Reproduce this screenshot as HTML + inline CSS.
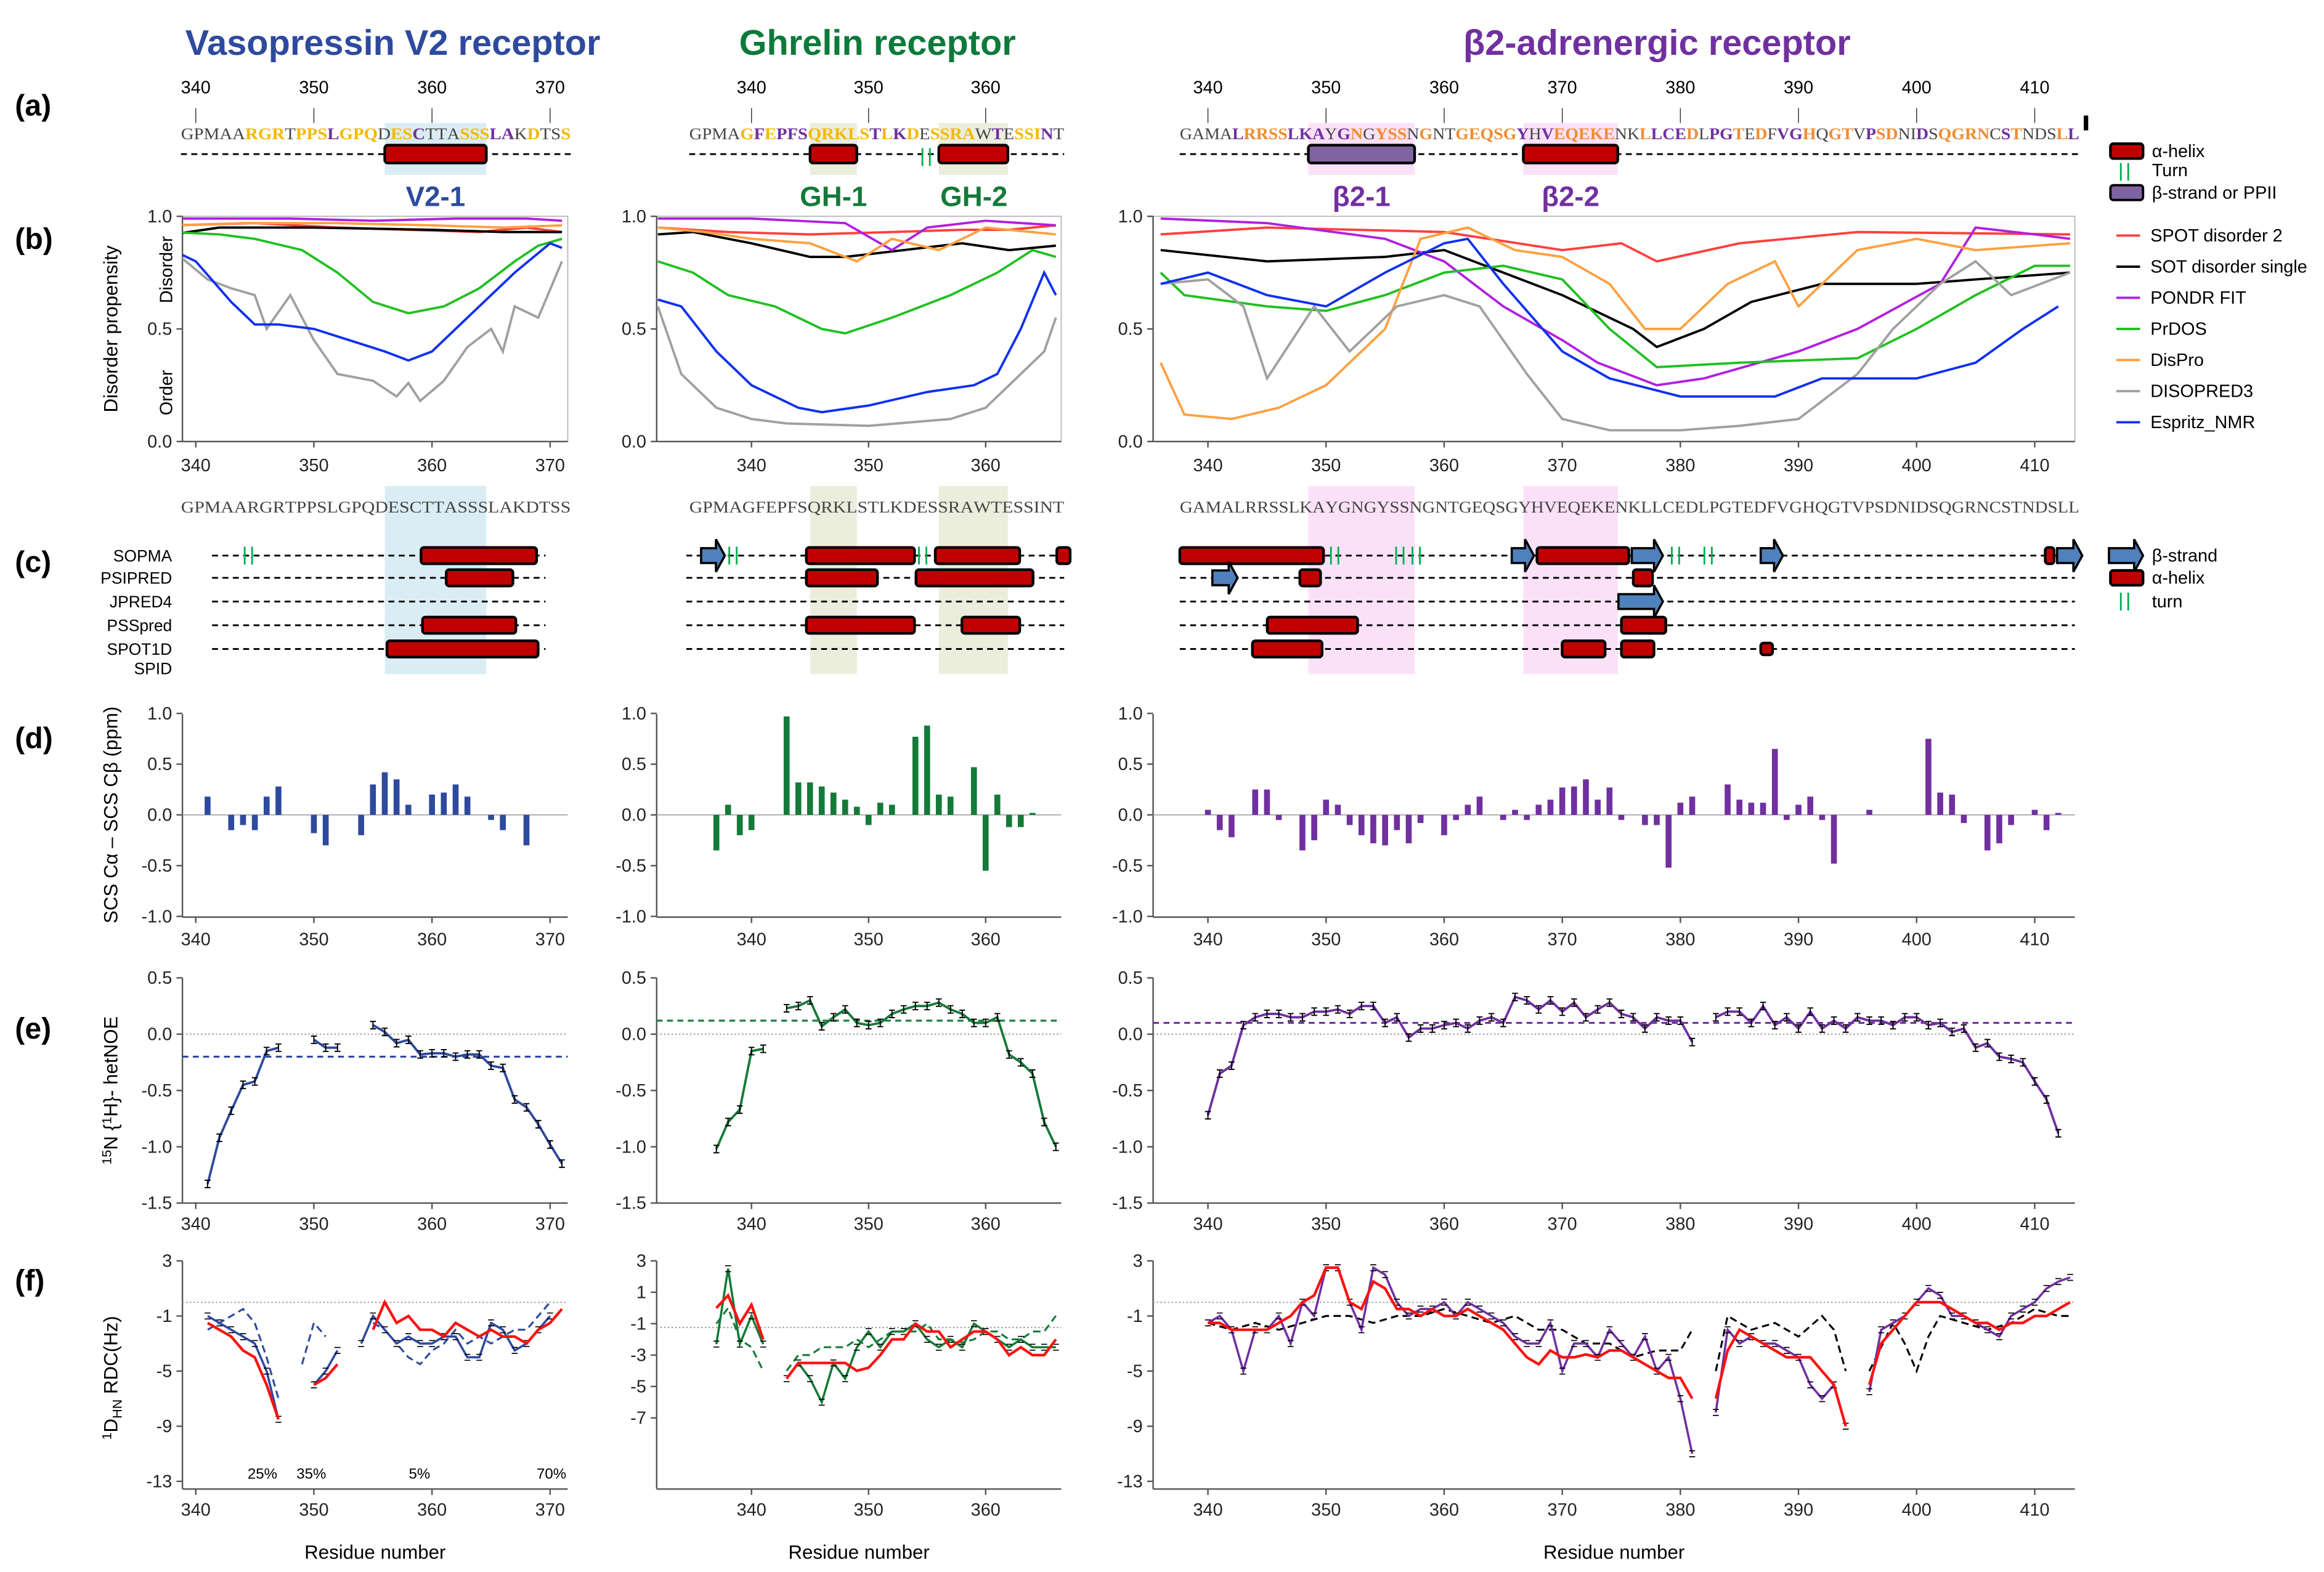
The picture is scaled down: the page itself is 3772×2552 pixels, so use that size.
<!DOCTYPE html>
<html><head><meta charset="utf-8"><style>
html,body{margin:0;padding:0;background:#fff}
svg{display:block}
text{font-family:"Liberation Sans",sans-serif}
.seq{font-family:"Liberation Serif",serif}
</style></head><body>
<svg id="fig" xmlns="http://www.w3.org/2000/svg" width="3772" height="2552" viewBox="0 0 1568 1061">
<g>
<text x="265" y="37" text-anchor="middle" font-size="24" font-weight="bold" fill="#2e4a9e">Vasopressin V2 receptor</text>
<text x="592" y="37" text-anchor="middle" font-size="24" font-weight="bold" fill="#0b7a3a">Ghrelin  receptor</text>
<text x="1118" y="37" text-anchor="middle" font-size="24" font-weight="bold" fill="#7030a0">β2-adrenergic receptor</text>
</g>
<g font-size="20" font-weight="bold">
<text x="10" y="78">(a)</text>
<text x="10" y="168">(b)</text>
<text x="10" y="386">(c)</text>
<text x="10" y="505">(d)</text>
<text x="10" y="701">(e)</text>
<text x="10" y="871">(f)</text>
</g>
<g font-size="13">
<text transform="translate(79,222) rotate(-90)" text-anchor="middle">Disorder propensity</text>
<text transform="translate(116,182) rotate(-90)" text-anchor="middle" font-size="12">Disorder</text>
<text transform="translate(116,265) rotate(-90)" text-anchor="middle" font-size="12">Order</text>
<text transform="translate(79,550) rotate(-90)" text-anchor="middle">SCS Cα – SCS Cβ (ppm)</text>
<text transform="translate(79,736) rotate(-90)" text-anchor="middle"><tspan font-size="9" dy="-4">15</tspan><tspan dy="4">N {</tspan><tspan font-size="9" dy="-4">1</tspan><tspan dy="4">H}- hetNOE</tspan></text>
<text transform="translate(79,930) rotate(-90)" text-anchor="middle"><tspan font-size="9" dy="-4">1</tspan><tspan dy="4">D</tspan><tspan font-size="9" dy="3">HN</tspan><tspan dy="-3"> RDC(Hz)</tspan></text>
</g>
<g id="root"></g>
</svg>
<script>
// ---------- data ----------
const seq1 = "GPMAARGRTPPSLGPQDESCTTASSSLAKDTSS";
const seq1Col = "gggggooogooopooogoopgggoooppgoggoo".slice(0,33);
const seq2 = "GPMAGFEPFSQRKLSTLKDESSRAWTESSINT";
const seq2Col = "ggggopopppooooopopogoooogpgooopgg".slice(0,32);
const seq3 = "GAMALRRSSLKAYGNGYSSNGNTGEQSGYHVEQEKENKLLCEDLPGTEDFVGHQGTVPSDNIDSQGRNCSTNDSLL";
const seq3Col = "ggggpoooopppgpogooogoggooooopgpoooooggopppogppogogppogoogpooggpgoooogpogggopp";

// (b) disorder propensity [residue, value]
const b1_spot = [[338,0.96],[345,0.97],[352,0.95],[358,0.94],[364,0.93],[368,0.95],[371,0.93]];
const b1_sot = [[338,0.92],[342,0.95],[350,0.95],[360,0.94],[366,0.93],[371,0.93]];
const b1_pondr = [[338,0.99],[348,0.99],[355,0.98],[362,0.99],[368,0.99],[371,0.98]];
const b1_prdos = [[338,0.93],[342,0.92],[345,0.9],[349,0.85],[352,0.75],[355,0.62],[358,0.57],[361,0.6],[364,0.68],[367,0.8],[369,0.87],[371,0.9]];
const b1_dispro = [[338,0.96],[344,0.97],[352,0.97],[360,0.96],[366,0.95],[371,0.96]];
const b1_disop = [[338,0.85],[341,0.72],[343,0.68],[345,0.65],[346,0.5],[348,0.65],[350,0.45],[352,0.3],[355,0.27],[357,0.2],[358,0.26],[359,0.18],[361,0.27],[363,0.42],[365,0.5],[366,0.4],[367,0.6],[369,0.55],[371,0.8]];
const b1_espritz = [[338,0.85],[340,0.8],[343,0.62],[345,0.52],[347,0.52],[350,0.5],[353,0.45],[356,0.4],[358,0.36],[360,0.4],[363,0.55],[367,0.75],[370,0.88],[371,0.86]];

const b2_spot = [[332,0.95],[338,0.93],[345,0.92],[352,0.93],[358,0.94],[362,0.94],[366,0.96]];
const b2_sot = [[332,0.92],[335,0.93],[340,0.88],[345,0.82],[348,0.82],[353,0.85],[358,0.88],[362,0.85],[366,0.87]];
const b2_pondr = [[332,0.99],[340,0.99],[348,0.97],[352,0.85],[355,0.95],[360,0.98],[366,0.96]];
const b2_prdos = [[332,0.8],[335,0.75],[338,0.65],[342,0.6],[346,0.5],[348,0.48],[352,0.55],[357,0.65],[361,0.75],[364,0.85],[366,0.82]];
const b2_dispro = [[332,0.95],[336,0.93],[340,0.9],[345,0.88],[349,0.8],[352,0.9],[356,0.85],[360,0.95],[366,0.92]];
const b2_disop = [[332,0.6],[334,0.3],[337,0.15],[340,0.1],[343,0.08],[350,0.07],[357,0.1],[360,0.15],[362,0.25],[365,0.4],[366,0.55]];
const b2_espritz = [[332,0.63],[334,0.6],[337,0.4],[340,0.25],[344,0.15],[346,0.13],[350,0.16],[355,0.22],[359,0.25],[361,0.3],[363,0.5],[365,0.75],[366,0.65]];

const b3_spot = [[336,0.92],[345,0.95],[360,0.93],[370,0.85],[375,0.88],[378,0.8],[385,0.88],[395,0.93],[413,0.92]];
const b3_sot = [[336,0.85],[345,0.8],[355,0.82],[360,0.85],[365,0.75],[370,0.65],[376,0.5],[378,0.42],[382,0.5],[386,0.62],[392,0.7],[400,0.7],[405,0.72],[413,0.75]];
const b3_pondr = [[336,0.99],[345,0.97],[355,0.9],[360,0.8],[365,0.6],[370,0.45],[373,0.35],[378,0.25],[382,0.28],[390,0.4],[395,0.5],[402,0.7],[405,0.95],[410,0.92],[413,0.9]];
const b3_prdos = [[336,0.75],[338,0.65],[345,0.6],[350,0.58],[355,0.65],[360,0.75],[365,0.78],[370,0.72],[374,0.5],[378,0.33],[385,0.35],[395,0.37],[400,0.5],[405,0.65],[410,0.78],[413,0.78]];
const b3_dispro = [[336,0.35],[338,0.12],[342,0.1],[346,0.15],[350,0.25],[355,0.5],[358,0.9],[362,0.95],[366,0.85],[370,0.82],[374,0.7],[377,0.5],[380,0.5],[384,0.7],[388,0.8],[390,0.6],[395,0.85],[400,0.9],[405,0.85],[413,0.88]];
const b3_disop = [[336,0.7],[340,0.72],[343,0.6],[345,0.28],[349,0.6],[352,0.4],[356,0.6],[360,0.65],[363,0.6],[367,0.3],[370,0.1],[374,0.05],[380,0.05],[385,0.07],[390,0.1],[395,0.3],[398,0.5],[402,0.7],[405,0.8],[408,0.65],[413,0.75]];
const b3_espritz = [[336,0.7],[340,0.75],[345,0.65],[350,0.6],[355,0.75],[360,0.88],[362,0.9],[365,0.7],[370,0.4],[374,0.28],[380,0.2],[385,0.2],[388,0.2],[392,0.28],[400,0.28],[405,0.35],[409,0.5],[412,0.6]];

// (d) SCS bars [residue, value]
const d1 = [[341,0.18],[343,-0.15],[344,-0.1],[345,-0.15],[346,0.18],[347,0.28],[350,-0.18],[351,-0.3],[354,-0.2],[355,0.3],[356,0.42],[357,0.35],[358,0.1],[360,0.2],[361,0.22],[362,0.3],[363,0.18],[365,-0.05],[366,-0.15],[368,-0.3]];
const d2 = [[337,-0.35],[338,0.1],[339,-0.2],[340,-0.15],[343,0.97],[344,0.32],[345,0.32],[346,0.28],[347,0.22],[348,0.15],[349,0.08],[350,-0.1],[351,0.12],[352,0.1],[354,0.77],[355,0.88],[356,0.2],[357,0.18],[359,0.47],[360,-0.55],[361,0.2],[362,-0.12],[363,-0.12],[364,0.02]];
const d3 = [[340,0.05],[341,-0.15],[342,-0.22],[344,0.25],[345,0.25],[346,-0.05],[348,-0.35],[349,-0.25],[350,0.15],[351,0.1],[352,-0.1],[353,-0.2],[354,-0.28],[355,-0.3],[356,-0.15],[357,-0.28],[358,-0.08],[360,-0.2],[361,-0.05],[362,0.1],[363,0.18],[365,-0.05],[366,0.05],[367,-0.05],[368,0.1],[369,0.15],[370,0.27],[371,0.28],[372,0.35],[373,0.15],[374,0.27],[375,-0.05],[377,-0.1],[378,-0.1],[379,-0.52],[380,0.12],[381,0.18],[384,0.3],[385,0.15],[386,0.12],[387,0.12],[388,0.65],[389,-0.05],[390,0.1],[391,0.18],[392,-0.05],[393,-0.48],[396,0.05],[401,0.75],[402,0.22],[403,0.2],[404,-0.08],[406,-0.35],[407,-0.28],[408,-0.1],[410,0.05],[411,-0.15],[412,0.02]];

// (e) hetNOE [residue, value] (null = gap)
const e1 = [[341,-1.33],[342,-0.92],[343,-0.68],[344,-0.45],[345,-0.42],[346,-0.15],[347,-0.12],null,[350,-0.05],[351,-0.12],[352,-0.12],null,[355,0.08],[356,0.02],[357,-0.08],[358,-0.05],[359,-0.18],[360,-0.17],[361,-0.17],[362,-0.2],[363,-0.18],[364,-0.18],[365,-0.28],[366,-0.3],[367,-0.58],[368,-0.65],[369,-0.8],[370,-0.98],[371,-1.15]];
const e2 = [[337,-1.02],[338,-0.78],[339,-0.67],[340,-0.15],[341,-0.13],null,[343,0.23],[344,0.25],[345,0.3],[346,0.07],[347,0.15],[348,0.22],[349,0.1],[350,0.08],[351,0.1],[352,0.18],[353,0.22],[354,0.25],[355,0.25],[356,0.28],[357,0.22],[358,0.18],[359,0.1],[360,0.1],[361,0.15],[362,-0.18],[363,-0.25],[364,-0.35],[365,-0.78],[366,-1.0]];
const e3 = [[340,-0.72],[341,-0.35],[342,-0.28],[343,0.08],[344,0.15],[345,0.18],[346,0.18],[347,0.15],[348,0.15],[349,0.2],[350,0.2],[351,0.22],[352,0.18],[353,0.25],[354,0.25],[355,0.1],[356,0.15],[357,-0.03],[358,0.05],[359,0.05],[360,0.08],[361,0.1],[362,0.05],[363,0.12],[364,0.15],[365,0.1],[366,0.33],[367,0.3],[368,0.22],[369,0.3],[370,0.2],[371,0.28],[372,0.15],[373,0.22],[374,0.28],[375,0.18],[376,0.15],[377,0.05],[378,0.15],[379,0.12],[380,0.12],[381,-0.07],null,[383,0.15],[384,0.2],[385,0.2],[386,0.1],[387,0.25],[388,0.08],[389,0.15],[390,0.05],[391,0.2],[392,0.05],[393,0.12],[394,0.05],[395,0.15],[396,0.12],[397,0.12],[398,0.08],[399,0.15],[400,0.15],[401,0.08],[402,0.1],[403,0.02],[404,0.05],[405,-0.12],[406,-0.08],[407,-0.2],[408,-0.22],[409,-0.25],[410,-0.42],[411,-0.58],[412,-0.88]];
const e1_mean = -0.2, e2_mean = 0.12, e3_mean = 0.1;

// (f) RDC [residue, value]
const f1_exp = [[341,-1],[342,-1.5],[343,-2],[344,-2.5],[345,-3],[346,-5],[347,-8.5],null,[350,-6],[351,-5],[352,-3.5],null,[354,-3],[355,-1],[356,-2],[357,-3],[358,-2.5],[359,-3],[360,-3],[361,-2.5],[362,-2.5],[363,-4],[364,-4],[365,-1.5],[366,-2],[367,-3.5],[368,-3],[369,-2],[370,-1]];
const f1_calc = [[341,-1.5],[342,-2],[343,-2.5],[344,-3.5],[345,-4],[346,-6],[347,-8.5],null,[350,-6],[351,-5.5],[352,-4.5],null,[355,-2],[356,0],[357,-1.5],[358,-1],[359,-2],[360,-2],[361,-2.5],[362,-1.5],[363,-2],[364,-2.5],[365,-2],[366,-2.5],[367,-2.5],[368,-3],[369,-2],[370,-1.5],[371,-0.5]];
const f1_dash = [[341,-2],[342,-1.5],[343,-1],[344,-0.5],[345,-1.5],[346,-4],[347,-7],null,[349,-4.5],[350,-1.5],[351,-2.5],null,[355,-1.5],[356,-2],[357,-3],[358,-4],[359,-4.5],[360,-3.5],[361,-3],[362,-2],[363,-3],[364,-2.5],[365,-3],[366,-2.5],[367,-2],[368,-2],[369,-1],[370,0]];
const f2_exp = [[337,-2.3],[338,2.5],[339,-2.3],[340,-0.5],[341,-2.3],null,[343,-4.5],[344,-3.5],[345,-4.5],[346,-6],[347,-3.5],[348,-4.5],[349,-2.5],[350,-1.5],[351,-2.5],[352,-1.5],[353,-1.5],[354,-1],[355,-2],[356,-2.5],[357,-2],[358,-2.5],[359,-1],[360,-1.5],[361,-2],[362,-2.5],[363,-2],[364,-2.5],[365,-2.5],[366,-2.5]];
const f2_calc = [[337,0],[338,0.8],[339,-1],[340,0.2],[341,-2],null,[343,-4.5],[344,-3.5],[345,-3.5],[346,-3.5],[347,-3.5],[348,-3.5],[349,-4],[350,-3.8],[351,-3],[352,-2],[353,-2],[354,-1],[355,-1.5],[356,-1.5],[357,-2.5],[358,-2],[359,-1.5],[360,-1.5],[361,-2],[362,-3],[363,-2.5],[364,-3],[365,-3],[366,-2]];
const f2_dash = [[337,-1],[338,0],[339,-2],[340,-2.5],[341,-4],null,[343,-4],[344,-3],[345,-3],[346,-2.5],[347,-2.5],[348,-2.5],[349,-2],[350,-2.5],[351,-2],[352,-1.5],[353,-1.5],[354,-1.5],[355,-1],[356,-2],[357,-2],[358,-2.2],[359,-2],[360,-1.5],[361,-1.5],[362,-2],[363,-2],[364,-1.5],[365,-1.5],[366,-0.5]];
const f3_exp = [[340,-1.5],[341,-1],[342,-2],[343,-5],[344,-2],[345,-2],[346,-1],[347,-3],[348,0],[349,-1],[350,2.5],[351,2.5],[352,0],[353,-2],[354,2.5],[355,2],[356,0],[357,-1],[358,-0.5],[359,-0.5],[360,0],[361,-1],[362,0],[363,-0.5],[364,-1],[365,-1.5],[366,-2.5],[367,-3],[368,-3],[369,-1.5],[370,-5],[371,-3],[372,-3],[373,-4],[374,-2],[375,-3],[376,-4],[377,-2.5],[378,-5],[379,-4],[380,-7],[381,-11],null,[383,-8],[384,-2],[385,-3],[386,-2.5],[387,-3],[388,-3],[389,-3.5],[390,-4],[391,-6],[392,-7],[393,-6],[394,-9],null,[396,-6.5],[397,-2],[398,-1.5],[399,-1],[400,0],[401,1],[402,0.5],[403,-1],[404,-1],[405,-1.5],[406,-2],[407,-2.5],[408,-1],[409,-0.5],[410,0],[411,1],[412,1.5],[413,1.8]];
const f3_calc = [[340,-1.5],[341,-1.5],[342,-2],[343,-2],[344,-2],[345,-2],[346,-1.5],[347,-1],[348,0],[349,0.5],[350,2.5],[351,2.5],[352,0],[353,-0.5],[354,1.5],[355,1],[356,-0.5],[357,-0.5],[358,-1],[359,-0.5],[360,-1],[361,-1],[362,-0.5],[363,-1],[364,-1.5],[365,-2],[366,-3],[367,-4],[368,-4.5],[369,-3.5],[370,-4],[371,-4],[372,-3.8],[373,-4],[374,-3.5],[375,-3.5],[376,-4],[377,-4.5],[378,-5],[379,-5.5],[380,-5.5],[381,-7],null,[383,-7],[384,-3.5],[385,-2],[386,-2.5],[387,-3],[388,-3.5],[389,-4],[390,-4],[391,-4],[392,-5],[393,-6],[394,-9],null,[396,-6],[397,-3],[398,-2],[399,-1],[400,0],[401,0],[402,0],[403,-0.5],[404,-1],[405,-1.5],[406,-1.5],[407,-2],[408,-1.5],[409,-1.5],[410,-1],[411,-1],[412,-0.5],[413,0]];
const f3_dash = [[340,-1.5],[342,-2],[344,-1.5],[346,-2],[348,-1.5],[350,-1],[352,-1],[354,-1.5],[356,-1],[358,-1],[360,-0.5],[362,-1],[364,-1.5],[366,-1],[368,-2],[370,-2],[372,-3],[374,-3],[376,-4],[378,-3.5],[380,-3.5],[381,-2],null,[383,-5],[384,-1],[386,-2],[388,-1.5],[390,-2.5],[392,-1],[393,-2],[394,-5],null,[396,-5],[398,-1.5],[399,-3],[400,-5],[401,-2.5],[402,-1],[404,-1.5],[406,-2],[408,-1.5],[410,-0.5],[412,-1],[413,-1]];

const xTicks1 = [340,350,360,370];
const xTicks2 = [340,350,360];
const xTicks3 = [340,350,360,370,380,390,400,410];
const bTicks = [0,0.5,1];
const dTicks = [-1,-0.5,0,0.5,1];
const eTicks = [0.5,0,-0.5,-1,-1.5];
const fTicks13 = [3,-1,-5,-9,-13];
const fTicks2 = [3,1,-1,-3,-5,-7];

// ---------- drawing ----------
const NS = "http://www.w3.org/2000/svg";
const root = document.getElementById('root');
function mk(tag, attrs, parent){ const e=document.createElementNS(NS,tag); for(const k in attrs) e.setAttribute(k,attrs[k]); (parent||root).appendChild(e); return e; }

const cols = [
 {x:r=>132+(r-340)*7.97, x0:123, x1:383, seq:seq1, sc:seq1Col, s0:122, s1:385, ticks:xTicks1, color:'#2e4a9e', yel:'#f5b800', name:'v2'},
 {x:r=>507+(r-340)*7.9, x0:443, x1:716, seq:seq2, sc:seq2Col, s0:465, s1:718, ticks:xTicks2, color:'#147a38', yel:'#f5b800', name:'ghrelin'},
 {x:r=>815+(r-340)*7.97, x0:778, x1:1400, seq:seq3, sc:seq3Col, s0:796, s1:1403, ticks:xTicks3, color:'#7030a0', yel:'#f08c30', name:'b2ar'}
];
const yB = v=>298-v*152, yD = v=>550-v*68.5, yE = v=>698-v*76;
const yF = v=>851+(3-v)*9.3, yF2 = v=>851+(3-v)*10.6;

function pathFrom(pts, xf, yf){ let d='', pen=false; for(const p of pts){ if(!p){pen=false;continue;} d += (pen?'L':'M')+xf(p[0]).toFixed(1)+' '+yf(p[1]).toFixed(1)+' '; pen=true;} return d; }

function seqText(c, y, colored, g){
  const t = mk('text',{x:c.s0,y:y,'font-size':11,textLength:c.s1-c.s0,lengthAdjust:'spacingAndGlyphs','class':'seq'},g);
  
  
  for(let i=0;i<c.seq.length;i++){
    const s=document.createElementNS(NS,'tspan'); s.textContent=c.seq[i];
    const k=colored?c.sc[i]:'g';
    s.setAttribute('fill', k==='o'?c.yel:k==='p'?'#7030a0':'#444');
    if(colored && k!=='g') s.setAttribute('font-weight','bold');
    t.appendChild(s);
  }
}
function helix(x0,x1,y,g,h){ h=h||12; const r=mk('rect',{x:x0,y:y-h/2,width:x1-x0,height:h,rx:2,fill:'#c00000',stroke:'#000','stroke-width':1.8},g);   }
function strand(x0,x1,y,g){ const p=mk('path',{d:`M${x0} ${y-5}L${x1-6} ${y-5}L${x1-6} ${y-11}L${x1} ${y}L${x1-6} ${y+11}L${x1-6} ${y+5}L${x0} ${y+5}Z`,fill:'#4f81bd',stroke:'#000','stroke-width':1.5},g);   }
function turn(x,y,g){ for(const dx of [0,5]){ const l=mk('line',{x1:x+dx,x2:x+dx,y1:y-6,y2:y+6,stroke:'#00b050','stroke-width':1.2},g);   } }
function dashed(x0,x1,y,g){ const l=mk('line',{x1:x0,x2:x1,y1:y,y2:y,stroke:'#000','stroke-width':1.2,'stroke-dasharray':'4 3'},g);   }

function yAxis(c, ticks, yf, top, bot, g, fmt){
  mk('line',{x1:c.x0,x2:c.x0,y1:top,y2:bot,stroke:'#555','stroke-width':1},g);
  for(const t of ticks){ const y=yf(t); mk('line',{x1:c.x0-4,x2:c.x0,y1:y,y2:y,stroke:'#555'},g);
    const tx=mk('text',{x:c.x0-7,y:y+4,'font-size':12,'text-anchor':'end',fill:'#222'},g); tx.textContent=fmt(t);
      }
}
function xAxis(c, y, g, labelY){
  mk('line',{x1:c.x0,x2:c.x1,y1:y,y2:y,stroke:'#555','stroke-width':1},g);
  for(const t of c.ticks){ const x=c.x(t); mk('line',{x1:x,x2:x,y1:y,y2:y+4,stroke:'#555'},g);
    const tx=mk('text',{x:x,y:labelY,'font-size':12,'text-anchor':'middle',fill:'#222'},g); tx.textContent=t;
      }
}

const bSeries = [
 [[b1_spot,b1_sot,b1_pondr,b1_prdos,b1_dispro,b1_disop,b1_espritz]],
 [[b2_spot,b2_sot,b2_pondr,b2_prdos,b2_dispro,b2_disop,b2_espritz]],
 [[b3_spot,b3_sot,b3_pondr,b3_prdos,b3_dispro,b3_disop,b3_espritz]]
];
const bColors = ['#ff4040','#000000','#b020e0','#20c020','#ffa040','#a0a0a0','#1030f0'];
const bNames = ['spot-disorder2','sot-disorder-single','pondr-fit','prdos','dispro','disopred3','espritz-nmr'];
const dData=[d1,d2,d3], eData=[e1,e2,e3], eMean=[e1_mean,e2_mean,e3_mean];
const fData=[[f1_exp,f1_calc,f1_dash],[f2_exp,f2_calc,f2_dash],[f3_exp,f3_calc,f3_dash]];

// highlight regions per column [start residue, end residue, fill]
const hl = [[[356,364.6,'#daedf4']],[[345,349,'#ebeedd'],[356,361.9,'#ebeedd']],[[348.5,357.5,'#fbe1f8'],[366.7,374.7,'#fbe1f8']]];

cols.forEach((c,ci)=>{
  const g = mk('g',{});
  
  
  // highlights
  for(const h of hl[ci]){ mk('rect',{x:c.x(h[0]),y:83,width:c.x(h[1])-c.x(h[0]),height:35,fill:h[2]},g); mk('rect',{x:c.x(h[0]),y:328,width:c.x(h[1])-c.x(h[0]),height:127,fill:h[2]},g); }
  // (a) ruler
  for(const t of c.ticks){ const x=c.x(t); mk('line',{x1:x,x2:x,y1:73,y2:83,stroke:'#333','stroke-width':0.6},g);
    const tx=mk('text',{x:x,y:63,'font-size':12,'text-anchor':'middle'},g); tx.textContent=t; }
  seqText(c,94,true,g);
  dashed(c.s0,c.s1,104,g);
  seqText(c,346,false,g);
});
// (a) structure boxes
{ const g=mk('g',{});  
  const X1=cols[0].x, X2=cols[1].x, X3=cols[2].x;
  helix(X1(356),X1(364.6),104,g);
  helix(X2(345),X2(349),104,g); helix(X2(356),X2(361.9),104,g); turn(X2(354.6),106,g);
  const p=mk('rect',{x:X3(348.5),y:98,width:X3(357.5)-X3(348.5),height:12,rx:2,fill:'#8064a2',stroke:'#000','stroke-width':1.8},g);
   
  helix(X3(366.7),X3(374.7),104,g);
  const labs=[['V2-1',X1(360.3),'#2e4a9e'],['GH-1',X2(347),'#147a38'],['GH-2',X2(359),'#147a38'],['β2-1',X3(353),'#7030a0'],['β2-2',X3(370.7),'#7030a0']];
  for(const l of labs){ const t=mk('text',{x:l[1],y:139,'font-size':19,'font-weight':'bold','text-anchor':'middle',fill:l[2]},g); t.textContent=l[0];   }
  mk('rect',{x:1406,y:78,width:3,height:10,fill:'#000'},g);
}
// (c) prediction tracks
{ const g=mk('g',{});  
  const rows=[375,390,406,422,438], names=['SOPMA','PSIPRED','JPRED4','PSSpred','SPOT1D'];
  names.forEach((n,i)=>{ const t=mk('text',{x:116,y:rows[i]+4,'font-size':11,'text-anchor':'end'},g); t.textContent=n;  
    dashed(143,368,rows[i],g); dashed(463,718,rows[i],g); dashed(796,1400,rows[i],g); });
  const t=mk('text',{x:116,y:455,'font-size':11,'text-anchor':'end'},g); t.textContent='SPID';
  // col1
  turn(165,rows[0],g); helix(284,362,rows[0],g,11); helix(301,346,rows[1],g,11); helix(285,348,rows[3],g,11); helix(261,363,rows[4],g,11);
  // col2
  strand(473,489,rows[0],g); turn(492,rows[0],g); helix(544,617,rows[0],g,11); turn(620,rows[0],g); helix(631,688,rows[0],g,11); helix(713,722,rows[0],g,11);
  helix(544,592,rows[1],g,11); helix(618,697,rows[1],g,11); helix(544,617,rows[3],g,11); helix(649,688,rows[3],g,11);
  // col3
  helix(796,893,rows[0],g,11); turn(898,rows[0],g); turn(942,rows[0],g); turn(953,rows[0],g); strand(1020,1035,rows[0],g); helix(1037,1099,rows[0],g,11); strand(1101,1122,rows[0],g); turn(1128,rows[0],g); turn(1150,rows[0],g); strand(1188,1203,rows[0],g); helix(1380,1386,rows[0],g,11); strand(1388,1405,rows[0],g);
  strand(818,835,rows[1],g); helix(877,891,rows[1],g,11); helix(1102,1115,rows[1],g,11);
  strand(1092,1122,rows[2],g);
  helix(855,916,rows[3],g,11); helix(1094,1124,rows[3],g,11);
  helix(845,892,rows[4],g,11); helix(1054,1083,rows[4],g,11); helix(1094,1116,rows[4],g,11); helix(1188,1196,rows[4],g,8);
}
// (b),(d),(e),(f) plots
cols.forEach((c,ci)=>{
  // (b)
  const gb=mk('g',{});  
  mk('rect',{x:c.x0,y:146,width:c.x1-c.x0,height:152,fill:'none',stroke:'#bbb','stroke-width':0.8},gb);
  yAxis(c,bTicks,yB,146,298,gb,v=>v.toFixed(1)); xAxis(c,298,gb,318);
  const clip=mk('clipPath',{id:'cb'+ci},gb); mk('rect',{x:c.x0,y:140,width:c.x1-c.x0,height:160},clip);
  bSeries[ci][0].forEach((s,si)=>{ const p=mk('path',{d:pathFrom(s,c.x,yB),fill:'none',stroke:bColors[si],'stroke-width':1.6,'clip-path':`url(#cb${ci})`},gb);
      });
  // (d)
  const gd=mk('g',{});  
  yAxis(c,dTicks,yD,482,619,gd,v=>v.toFixed(1)); xAxis(c,619,gd,638);
  mk('line',{x1:c.x0,x2:c.x1,y1:yD(0),y2:yD(0),stroke:'#999','stroke-width':0.6},gd);
  for(const b of dData[ci]){ const y0=yD(0), y1=yD(b[1]); const r=mk('rect',{x:c.x(b[0])-2,y:Math.min(y0,y1),width:4,height:Math.abs(y1-y0),fill:c.color},gd);
      }
  // (e)
  const ge=mk('g',{});  
  yAxis(c,eTicks,yE,660,812,ge,v=>v.toFixed(1)); xAxis(c,812,ge,830);
  mk('line',{x1:c.x0,x2:c.x1,y1:yE(0),y2:yE(0),stroke:'#999','stroke-width':0.8,'stroke-dasharray':'1 1.5'},ge);
  mk('line',{x1:c.x0,x2:c.x1,y1:yE(eMean[ci]),y2:yE(eMean[ci]),stroke:c.color,'stroke-width':1.3,'stroke-dasharray':'4 3'},ge);
  const pe=mk('path',{d:pathFrom(eData[ci],c.x,yE),fill:'none',stroke:c.color,'stroke-width':1.6},ge);
   
  for(const p of eData[ci]){ if(!p) continue; const x=c.x(p[0]), y=yE(p[1]); mk('path',{d:`M${x-2} ${y-2.5}H${x+2}M${x} ${y-2.5}V${y+2.5}M${x-2} ${y+2.5}H${x+2}`,stroke:'#000','stroke-width':0.8},ge); }
  // (f)
  const gf=mk('g',{});  
  const yf = ci===1?yF2:yF;
  yAxis(c,ci===1?fTicks2:fTicks13,yf,851,1005,gf,v=>String(v)); xAxis(c,1005,gf,1023);
  mk('line',{x1:c.x0,x2:c.x1,y1:ci===1?896:879,y2:ci===1?896:879,stroke:'#999','stroke-width':0.8,'stroke-dasharray':'1 1.5'},gf);
  const [fe,fc,fd]=fData[ci];
  const dashCol = ci===2?'#000':c.color;
  const l3=mk('path',{d:pathFrom(fd,c.x,yf),fill:'none',stroke:dashCol,'stroke-width':1.3,'stroke-dasharray':'5 3'},gf);  
  const l1=mk('path',{d:pathFrom(fe,c.x,yf),fill:'none',stroke:c.color,'stroke-width':1.5},gf);  
  for(const p of fe){ if(!p) continue; const x=c.x(p[0]), y=yf(p[1]); mk('path',{d:`M${x-2} ${y-2}H${x+2}M${x-2} ${y+2}H${x+2}`,stroke:'#000','stroke-width':0.7},gf); }
  const l2=mk('path',{d:pathFrom(fc,c.x,yf),fill:'none',stroke:'#ff1010','stroke-width':1.8},gf);  
  const rl=mk('text',{x:(c.x0+c.x1)/2,y:1052,'font-size':13,'text-anchor':'middle'},gf); rl.textContent='Residue number';
   
});
// percentage labels
[['25%',177],['35%',210],['5%',283],['70%',372]].forEach(p=>{ const t=mk('text',{x:p[1],y:998,'font-size':10,'text-anchor':'middle'}); t.textContent=p[0];   });

// legends
{ const g=mk('g',{});  
  helix(1424,1446,102,g,10); const t1=mk('text',{x:1452,y:106,'font-size':12},g); t1.textContent='α-helix';
  turn(1431,116,g); const t2=mk('text',{x:1452,y:119,'font-size':12},g); t2.textContent='Turn';
  const r=mk('rect',{x:1424,y:125,width:22,height:10,rx:2,fill:'#8064a2',stroke:'#000','stroke-width':1.6},g);
  const t3=mk('text',{x:1452,y:134,'font-size':12},g); t3.textContent='β-strand or PPII';
}
{ const g=mk('g',{});  
  const labels=['SPOT disorder 2','SOT disorder single','PONDR FIT','PrDOS','DisPro','DISOPRED3','Espritz_NMR'];
  labels.forEach((l,i)=>{ const y=159+i*21; mk('line',{x1:1428,x2:1444,y1:y,y2:y,stroke:bColors[i],'stroke-width':1.6},g);
    const t=mk('text',{x:1451,y:y+4,'font-size':12},g); t.textContent=l;   });
}
{ const g=mk('g',{});  
  strand(1423,1446,375,g); const t1=mk('text',{x:1452,y:379,'font-size':12},g); t1.textContent='β-strand';
  helix(1424,1446,390,g,10); const t2=mk('text',{x:1452,y:394,'font-size':12},g); t2.textContent='α-helix';
  turn(1431,406,g); const t3=mk('text',{x:1452,y:410,'font-size':12},g); t3.textContent='turn';
}
</script>
</body></html>
